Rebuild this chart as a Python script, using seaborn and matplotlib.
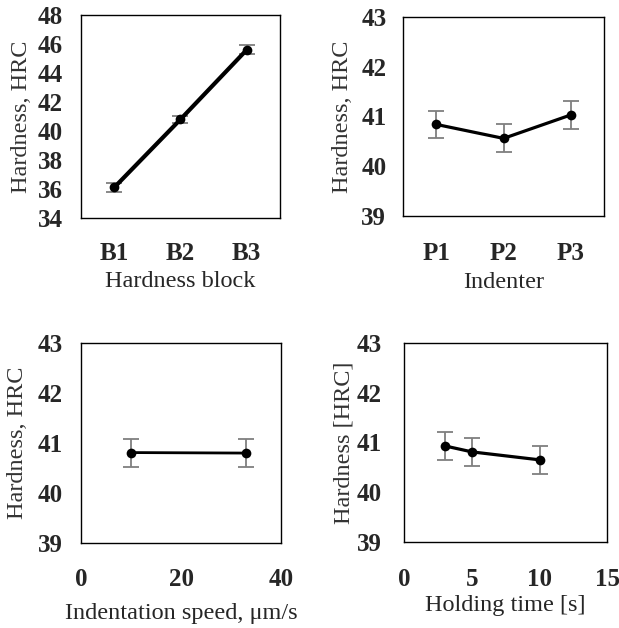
import matplotlib
matplotlib.use("Agg")
import matplotlib.pyplot as plt
import seaborn as sns
import pandas as pd

sns.set_theme(style="white")
plt.rcParams['font.family'] = ['Liberation Serif', 'DejaVu Serif']

# Data
blocks = ["B1", "B2", "B3"]
block_hard = [36.1, 40.8, 45.6]
block_err = [0.3, 0.25, 0.3]

indenters = ["P1", "P2", "P3"]
ind_hard = [40.84, 40.56, 41.03]
ind_err = [0.28, 0.28, 0.28]

speeds = [10, 33]
speed_hard = [40.81, 40.80]
speed_err = [0.28, 0.28]

hold_times = [3, 5, 10]
hold_hard = [40.93, 40.81, 40.65]
hold_err = [0.28, 0.28, 0.28]

fig = plt.figure(figsize=(6.19, 6.28), dpi=100)
TICK_FS = 18
LAB_FS = 17.5
ERR_COL = "#7f7f7f"
YLAB_COL = "#333333"


def style(ax, ypad):
    for s in ax.spines.values():
        s.set_color("black")
        s.set_linewidth(1.0)
    ax.tick_params(axis='both', which='major', direction='in', length=5, width=1,
                   color='black', labelsize=TICK_FS)
    ax.tick_params(axis='y', pad=ypad)
    for lab in ax.get_yticklabels() + ax.get_xticklabels():
        lab.set_fontweight('bold')
    ax.grid(False)


def draw(ax, x, y, e, lw):
    df = pd.DataFrame({"x": x, "y": y})
    ax.errorbar(x, y, yerr=e, fmt='none', ecolor=ERR_COL, elinewidth=1.3,
                capsize=6, capthick=1.3, zorder=2)
    sns.lineplot(data=df, x="x", y="y", ax=ax, color="black", lw=lw,
                 marker="o", markersize=7, markeredgewidth=0, zorder=3,
                 estimator=None, sort=False)


def cat_axis(ax, cats, pad):
    n = len(cats)
    ax.set_xlim(0, n)
    ax.set_xticks(range(1, n))
    ax.set_xticklabels([])
    ax.set_xticks([i + 0.5 for i in range(n)], minor=True)
    ax.set_xticklabels(cats, minor=True)
    ax.tick_params(axis='x', which='minor', length=0, pad=pad, labelsize=TICK_FS)
    for lab in ax.get_xticklabels(minor=True):
        lab.set_fontweight('bold')


# Top-left
ax1 = fig.add_axes([0.131, 0.653, 0.321, 0.323])
pos = [i + 0.5 for i in range(len(blocks))]
draw(ax1, pos, block_hard, block_err, 3.0)
ax1.set_ylim(34, 48)
ax1.set_yticks([34, 36, 38, 40, 42, 44, 46, 48])
style(ax1, 13)
cat_axis(ax1, blocks, 17)
ax1.set_xlabel("Hardness block", fontsize=LAB_FS, labelpad=5)
ax1.set_ylabel("Hardness, HRC", fontsize=LAB_FS, color=YLAB_COL, labelpad=4.5)

# Top-right
ax2 = fig.add_axes([0.651, 0.656, 0.325, 0.317])
pos = [i + 0.5 for i in range(len(indenters))]
draw(ax2, pos, ind_hard, ind_err, 2.3)
ax2.set_ylim(39, 43)
ax2.set_yticks([39, 40, 41, 42, 43])
style(ax2, 12)
cat_axis(ax2, indenters, 19)
ax2.set_xlabel("Indenter", fontsize=LAB_FS, labelpad=5)
ax2.set_ylabel("Hardness, HRC", fontsize=LAB_FS, color=YLAB_COL, labelpad=6)

# Bottom-left
ax3 = fig.add_axes([0.131, 0.135, 0.323, 0.319])
draw(ax3, speeds, speed_hard, speed_err, 2.0)
ax3.set_xlim(0, 40)
ax3.set_xticks([0, 20, 40])
ax3.set_ylim(39, 43)
ax3.set_yticks([39, 40, 41, 42, 43])
style(ax3, 13)
ax3.tick_params(axis='x', pad=17.5)
ax3.set_xlabel("Indentation speed, \u03bcm/s", fontsize=LAB_FS, labelpad=9)
ax3.set_ylabel("Hardness, HRC", fontsize=LAB_FS, color=YLAB_COL, labelpad=7)

# Bottom-right
ax4 = fig.add_axes([0.653, 0.137, 0.328, 0.317])
draw(ax4, hold_times, hold_hard, hold_err, 2.3)
ax4.set_xlim(0, 15)
ax4.set_xticks([0, 5, 10, 15])
ax4.set_ylim(39, 43)
ax4.set_yticks([39, 40, 41, 42, 43])
style(ax4, 16)
ax4.tick_params(axis='x', pad=19)
ax4.set_xlabel("Holding time [s]", fontsize=LAB_FS, labelpad=2.5)
ax4.set_ylabel("Hardness [HRC]", fontsize=LAB_FS, color=YLAB_COL, labelpad=2)

fig.savefig("out.png", dpi=100, facecolor="white")
